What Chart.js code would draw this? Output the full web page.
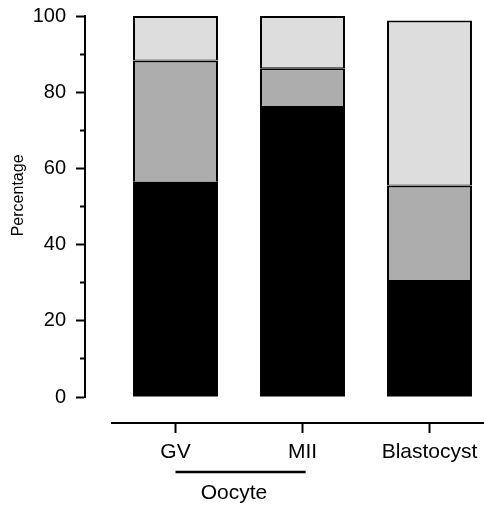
<!DOCTYPE html>
<html><head><meta charset="utf-8">
<script src="https://cdn.jsdelivr.net/npm/chart.js@4"></script>
<style>
html,body{margin:0;padding:0;overflow:hidden;background:#fff;}
#wrap{position:relative;width:493px;height:507px;}
</style></head>
<body><div id="wrap"><canvas id="c"></canvas></div>
<script>
// ---- data ----
const categories = ['GV', 'MII', 'Blastocyst'];
const blackValues = [56.5, 76.4, 30.7];
const greyValues = [31.8, 9.9, 24.8];
const lightValues = [11.7, 13.7, 43.3];
const yTickLabels = [0, 20, 40, 60, 80, 100];
const yTitle = 'Percentage';
const groupLabels = ['Oocyte'];
const groupLabelAt = [0.46];           // position on the category index axis
const groupSpanX = [0, 1.025];         // bracket extent (category index units)
const groupLineLevel = [-19.7, -19.7]; // bracket level in y units
const xAxisLevel = -6.82;              // offset x axis sits below 0
const yAxisAt = -0.7126;               // offset y axis sits left of first category

Chart.defaults.font.family = "'Liberation Sans', Arial, Helvetica, sans-serif";
Chart.defaults.color = '#000';

const barCommon = { type: 'bar', xAxisID: 'x', yAxisID: 'y', grouped: false,
  barPercentage: 0.669, categoryPercentage: 1 };

new Chart(document.getElementById('c'), {
  type: 'bar',
  data: {
    labels: categories,
    datasets: [
      Object.assign({ data: blackValues, backgroundColor: '#000000', borderWidth: 0 }, barCommon),
      Object.assign({ data: greyValues, backgroundColor: '#adadad', borderColor: '#000',
        borderWidth: { top: 2, left: 2, right: 2, bottom: 0 }, borderSkipped: false }, barCommon),
      Object.assign({ data: lightValues, backgroundColor: '#dddddd', borderColor: '#000',
        borderWidth: { top: 2, left: 2, right: 2, bottom: 1 }, borderSkipped: false }, barCommon),
      { type: 'line', data: groupSpanX.map((x, i) => ({ x: x, y: groupLineLevel[i] })),
        borderColor: '#000', borderWidth: 2.5, pointRadius: 0, clip: false, tension: 0,
        xAxisID: 'xo', yAxisID: 'y' }
    ]
  },
  options: {
    responsive: true,
    maintainAspectRatio: false,
    devicePixelRatio: 1,
    animation: false,
    events: [],
    layout: { padding: { top: 16, left: 0, right: 0, bottom: 110 } },
    plugins: { legend: { display: false }, tooltip: { enabled: false } },
    scales: {
      ytitle: {
        type: 'linear', axis: 'y', position: 'left', min: 0, max: 100,
        afterFit: (s) => { s.width = 112; },
        afterBuildTicks: (s) => { s.ticks = yTickLabels.map(v => ({ value: v })); },
        ticks: { padding: 3, font: { size: 20 }, callback: (v) => String(v) },
        grid: { display: false, drawTicks: true, tickLength: 43 },
        border: { display: false },
        title: {
          display: true, text: '\u00a0\u00a0\u00a0\u00a0\u00a0' + yTitle,
          font: { size: 16 }, padding: { top: 9, bottom: 0 }, color: '#000'
        }
      },
      y: {
        type: 'linear', axis: 'y', position: { x: yAxisAt },
        min: 0, max: 100, stacked: true,
        ticks: { display: false, stepSize: 10 },
        grid: {
          drawOnChartArea: false, drawTicks: true, tickLength: 8, tickWidth: 2, tickColor: '#000',
          tickBorderDash: (ctx) => (ctx.tick && yTickLabels.includes(ctx.tick.value)) ? [] : [4, 100]
        },
        border: { display: true, color: '#000', width: 2 }
      },
      x: {
        type: 'category', axis: 'x', position: { y: xAxisLevel },
        stacked: true, offset: true,
        grid: { offset: false, drawOnChartArea: false, drawTicks: true, tickLength: 9, tickWidth: 2, tickColor: '#000' },
        border: { display: true, color: '#000', width: 2 },
        ticks: { padding: 8, font: { size: 21 }, maxRotation: 0, minRotation: 0, autoSkip: false }
      },
      xo: {
        type: 'linear', axis: 'x', position: { y: groupLineLevel[0] },
        min: -0.5, max: 2.5, offset: false,
        afterBuildTicks: (s) => { s.ticks = groupLabelAt.map(v => ({ value: v })); },
        ticks: { padding: 9, font: { size: 21 }, maxRotation: 0, minRotation: 0, autoSkip: false,
          callback: (v, i) => groupLabels[i] },
        grid: { display: false, drawTicks: false, offset: false },
        border: { display: false }
      }
    }
  }
});
</script>
</body></html>
